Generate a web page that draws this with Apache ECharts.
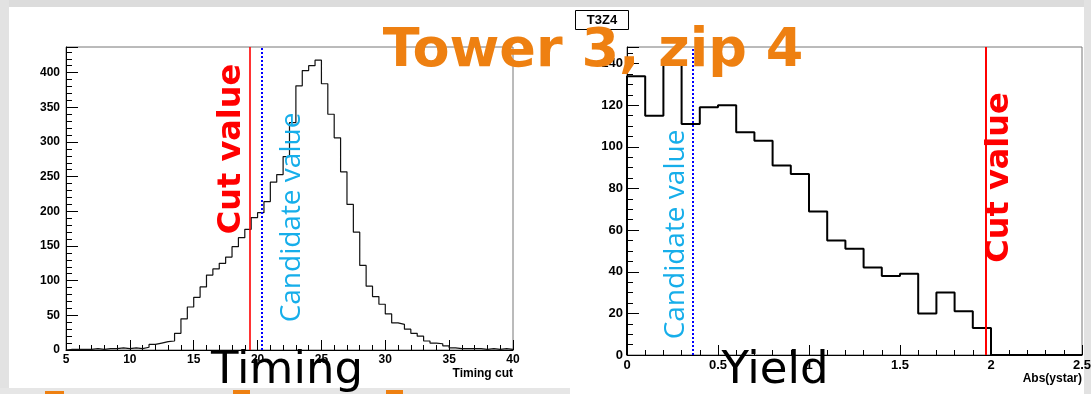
<!DOCTYPE html>
<html>
<head>
<meta charset="utf-8">
<script src="https://cdn.jsdelivr.net/npm/echarts@6/dist/echarts.min.js"></script>
<style>
html,body{margin:0;padding:0;background:#ffffff;}
#chart{width:1091px;height:394px;}
</style>
</head>
<body>
<div id="chart"></div>
<script>
// ---------------- data ----------------
const timingBinLow = 5;
const timingBinWidth = 0.5;
const timingCounts = [
  1, 1, 1, 1, 2, 1, 2, 2, 3, 2,
  3, 2, 4, 8, 10, 12, 13, 24, 45, 62,
  76, 91, 108, 117, 125, 134, 149, 162, 174, 191,
  198, 214, 242, 253, 279, 328, 381, 403, 410, 418,
  384, 340, 306, 257, 210, 170, 122, 92, 77, 66,
  52, 39, 37, 30, 24, 20, 13, 10, 9, 6,
  3, 2, 2, 2, 2, 1, 2, 1, 2, 1
];
const timingCut = 19.4;
const timingCandidate = 20.3;
const timingXRange = [5, 40];
const timingXStep = 5;
const timingXMinorSplit = 5;
const timingYMax = 437;
const timingYStep = 50;
const timingYMinorSplit = 5;

const ystarBinLow = 0;
const ystarBinWidth = 0.1;
const ystarCounts = [
  134, 115, 140, 111, 119, 120, 107, 103, 91, 87,
  69, 55, 51, 42, 38, 39, 20, 30, 21, 13,
  0, 0, 0, 0, 0
];
const ystarCandidate = 0.364;
const ystarCut = 1.972;
const ystarXRange = [0, 2.5];
const ystarXStep = 0.5;
const ystarXMinorSplit = 5;
const ystarYMax = 148;
const ystarYStep = 20;
const ystarYMinorSplit = 4;

const leftAxisTitle = 'Timing cut';
const rightAxisTitle = 'Abs(ystar)';
const slideTitle = 'Tower 3, zip 4';
const histTitle = 'T3Z4';
const leftCaption = 'Timing';
const rightCaption = 'Yield';
const cutText = 'Cut value';
const candText = 'Candidate value';

// ---------------- helpers ----------------
function histPoints(low, width, counts) {
  const pts = [[low, 0]];
  counts.forEach((c, i) => pts.push([low + i * width, c]));
  pts.push([low + counts.length * width, counts[counts.length - 1]]);
  return pts;
}

const labelFont = {color: '#000', fontWeight: 'bold', fontFamily: 'Liberation Sans, Arial, sans-serif'};
const blackLine = {color: '#000', width: 1};

function xAxisCfg(grid, range, step, split, name, fs) {
  return {
    type: 'value', gridIndex: grid, position: 'bottom', min: range[0], max: range[1], interval: step,
    axisLine: {show: true, onZero: false, lineStyle: blackLine},
    axisTick: {show: true, inside: true, length: 10, lineStyle: blackLine},
    minorTick: {show: true, splitNumber: split, length: 5, lineStyle: blackLine},
    splitLine: {show: false}, minorSplitLine: {show: false},
    axisLabel: Object.assign({show: true, fontSize: fs, margin: 4}, labelFont),
    name: name, nameLocation: 'end', nameGap: 0,
    nameTextStyle: Object.assign({fontSize: 12, align: 'right', verticalAlign: 'top', padding: [18, 0, 0, 0]}, labelFont)
  };
}
function yAxisCfg(grid, max, step, split, fs, margin) {
  return {
    type: 'value', gridIndex: grid, position: 'left', min: 0, max: max, interval: step,
    axisLine: {show: true, onZero: false, lineStyle: blackLine},
    axisTick: {show: true, inside: true, length: 12, lineStyle: blackLine},
    minorTick: {show: true, splitNumber: split, length: 6, lineStyle: blackLine},
    splitLine: {show: false}, minorSplitLine: {show: false},
    axisLabel: Object.assign({show: true, fontSize: fs, margin: margin, showMaxLabel: false}, labelFont)
  };
}

const chart = echarts.init(document.getElementById('chart'), null, {renderer: 'canvas'});

const orange = '#ee8011';
const cyan = '#16aeea';
const gridBase = {show: true, borderColor: '#777', borderWidth: 1, backgroundColor: 'transparent', outerBoundsMode: 'none', containLabel: false};

chart.setOption({
  animation: false,
  backgroundColor: '#ffffff',
  grid: [
    Object.assign({left: 66, right: 578, top: 47, bottom: 44}, gridBase),
    Object.assign({left: 627, right: 9, top: 47, bottom: 39}, gridBase)
  ],
  xAxis: [
    xAxisCfg(0, timingXRange, timingXStep, timingXMinorSplit, leftAxisTitle, 12),
    xAxisCfg(1, ystarXRange, ystarXStep, ystarXMinorSplit, rightAxisTitle, 13)
  ],
  yAxis: [
    yAxisCfg(0, timingYMax, timingYStep, timingYMinorSplit, 12, 6),
    yAxisCfg(1, ystarYMax, ystarYStep, ystarYMinorSplit, 13, 4)
  ],
  series: [
    {
      type: 'line', xAxisIndex: 0, yAxisIndex: 0, step: 'end', symbol: 'none', showSymbol: false,
      data: histPoints(timingBinLow, timingBinWidth, timingCounts),
      lineStyle: {color: '#111', width: 1.2}, clip: false, silent: true,
      markLine: {
        symbol: 'none', silent: true, animation: false, label: {show: false},
        data: [
          {xAxis: timingCut, lineStyle: {color: '#ff0000', width: 1.6, type: 'solid'}},
          {xAxis: timingCandidate, lineStyle: {color: '#0000ff', width: 2, type: 'dotted'}}
        ]
      }
    },
    {
      type: 'line', xAxisIndex: 1, yAxisIndex: 1, step: 'end', symbol: 'none', showSymbol: false,
      data: histPoints(ystarBinLow, ystarBinWidth, ystarCounts),
      lineStyle: {color: '#000', width: 2}, clip: false, silent: true,
      markLine: {
        symbol: 'none', silent: true, animation: false, label: {show: false},
        data: [
          {xAxis: ystarCandidate, lineStyle: {color: '#0000ff', width: 2, type: 'dotted'}},
          {xAxis: ystarCut, lineStyle: {color: '#ff0000', width: 2, type: 'solid'}}
        ]
      }
    }
  ],
  graphic: [
    // slide background strips
    {type: 'rect', z: -10, silent: true, shape: {x: 0, y: 0, width: 1091, height: 7}, style: {fill: '#dcdcdc'}},
    {type: 'rect', z: -10, silent: true, shape: {x: 0, y: 0, width: 9, height: 394}, style: {fill: '#e2e2e2'}},
    {type: 'rect', z: -10, silent: true, shape: {x: 1084, y: 0, width: 7, height: 394}, style: {fill: '#e2e2e2'}},
    {type: 'rect', z: -10, silent: true, shape: {x: 0, y: 388, width: 570, height: 6}, style: {fill: '#e6e6e6'}},
    {type: 'rect', z: -9, silent: true, shape: {x: 45, y: 391, width: 19, height: 3}, style: {fill: orange}},
    {type: 'rect', z: -9, silent: true, shape: {x: 233, y: 390, width: 17, height: 4}, style: {fill: orange}},
    {type: 'rect', z: -9, silent: true, shape: {x: 386, y: 390, width: 17, height: 4}, style: {fill: orange}},
    // histogram title box
    {type: 'rect', z: 50, silent: true, shape: {x: 575.5, y: 10.5, width: 53, height: 19}, style: {fill: '#fff', stroke: '#000', lineWidth: 1}},
    {type: 'text', z: 51, silent: true, x: 602, y: 20.5, style: {text: histTitle, font: 'bold 13px "Liberation Sans", Arial, sans-serif', fill: '#000', align: 'center', verticalAlign: 'middle'}},
    // annotations
    {type: 'text', z: 60, silent: true, x: 231.5, y: 149, rotation: Math.PI / 2, style: {text: cutText, font: 'bold 32px "DejaVu Sans", sans-serif', fill: '#ff0000', align: 'center', verticalAlign: 'middle'}},
    {type: 'text', z: 60, silent: true, x: 292.5, y: 217.5, rotation: Math.PI / 2, style: {text: candText, font: '28px "Open Sans", sans-serif', fill: cyan, align: 'center', verticalAlign: 'middle'}},
    {type: 'text', z: 60, silent: true, x: 676, y: 234.5, rotation: Math.PI / 2, style: {text: candText, font: '28px "Open Sans", sans-serif', fill: cyan, align: 'center', verticalAlign: 'middle'}},
    {type: 'text', z: 60, silent: true, x: 1000, y: 177.5, rotation: Math.PI / 2, style: {text: cutText, font: 'bold 32px "DejaVu Sans", sans-serif', fill: '#ff0000', align: 'center', verticalAlign: 'middle'}},
    // slide title and captions
    {type: 'text', z: 100, silent: true, x: 593, y: 52, style: {text: slideTitle, font: 'bold 54px "DejaVu Sans", sans-serif', fill: orange, align: 'center', verticalAlign: 'middle', shadowColor: 'rgba(0,0,0,0.45)', shadowBlur: 4, shadowOffsetX: 3, shadowOffsetY: 3}},
    {type: 'text', z: 100, silent: true, x: 287, y: 371, style: {text: leftCaption, font: '45px "DejaVu Sans", sans-serif', fill: '#000', align: 'center', verticalAlign: 'middle'}},
    {type: 'text', z: 100, silent: true, x: 775, y: 371, style: {text: rightCaption, font: '45px "DejaVu Sans", sans-serif', fill: '#000', align: 'center', verticalAlign: 'middle'}}
  ]
});
</script>
</body>
</html>
